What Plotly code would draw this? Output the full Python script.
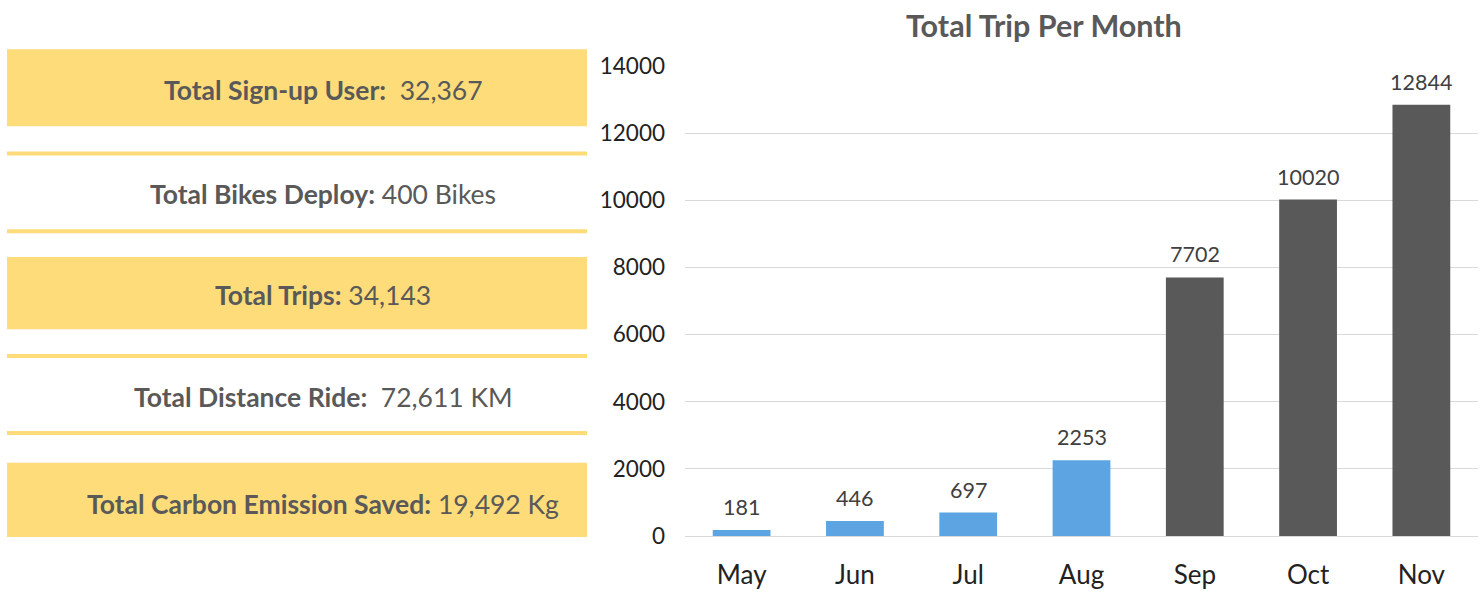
import plotly.graph_objects as go

# ---- data ----
months = ["May", "Jun", "Jul", "Aug", "Sep", "Oct", "Nov"]
trips = [181, 446, 697, 2253, 7702, 10020, 12844]
bar_colors = ["#5ca5e2", "#5ca5e2", "#5ca5e2", "#5ca5e2", "#595959", "#595959", "#595959"]
y_ticks = [0, 2000, 4000, 6000, 8000, 10000, 12000, 14000]

kpi_labels = ["Total Sign-up User:", "Total Bikes Deploy:", "Total Trips:",
              "Total Distance Ride:", "Total Carbon Emission Saved:"]
kpi_values = ["&nbsp;32,367", "400 Bikes", "34,143", "&nbsp;72,611 KM", "19,492 Kg"]
kpi_filled = [True, False, True, False, True]

# ---- layout geometry (screen pixels) ----
W, H = 1480, 592
PL, PR, PT, PB = 685, 1478, 66, 541  # plot area edges


def px(x):
    return (x - PL) / (PR - PL)


def py(y):
    return (PB - y) / (PB - PT)


fig = go.Figure()
fig.add_trace(go.Bar(
    x=months, y=trips,
    marker=dict(color=bar_colors, line=dict(width=0)),
    cliponaxis=False, width=0.51, hoverinfo="skip",
))

shapes = []
annotations = []
# value labels above bars
for m, v in zip(months, trips):
    annotations.append(dict(
        x=m, y=v, xref="x", yref="y", text=str(v), showarrow=False,
        xanchor="center", yanchor="middle", yshift=23,
        font=dict(family="Lato", size=21.5, color="#404040"),
    ))

rows = [(49, 127), (153, 233), (259, 332), (359, 437), (467, 542)]
text_y = [90, 195, 297, 401, 509]
line_y = [154.5, 233, 359, 437]
for i, (lab, val) in enumerate(zip(kpi_labels, kpi_values)):
    if kpi_filled[i]:
        t, b = rows[i]
        shapes.append(dict(type="rect", xref="paper", yref="paper",
                           x0=px(7), x1=px(587), y0=py(b), y1=py(t),
                           fillcolor="#fedc7a", line=dict(width=0), layer="below"))
    annotations.append(dict(
        xref="paper", yref="paper", x=px(323), y=py(text_y[i]),
        xanchor="center", yanchor="middle", showarrow=False,
        text=f"<b>{lab}</b> {val}",
        font=dict(family="Lato", size=26.5, color="#595959"),
    ))
for ly in line_y:
    shapes.append(dict(type="line", xref="paper", yref="paper",
                       x0=px(7), x1=px(587), y0=py(ly), y1=py(ly),
                       line=dict(color="#fedc7a", width=4), layer="below"))

# chart title
annotations.append(dict(
    xref="paper", yref="paper", x=px(1044), y=py(25),
    xanchor="center", yanchor="middle", showarrow=False,
    text="<b>Total Trip Per Month</b>",
    font=dict(family="Lato", size=30.5, color="#595959"),
))

fig.update_layout(
    width=W, height=H,
    margin=dict(l=PL, r=W - PR, t=PT, b=H - PB, pad=0),
    paper_bgcolor="white", plot_bgcolor="white",
    showlegend=False,
    shapes=shapes, annotations=annotations,
    xaxis=dict(showgrid=False, showline=False, ticks="",
               tickfont=dict(family="Lato", size=26, color="#222222"),
               ticklabelstandoff=21),
    yaxis=dict(range=[0, 14000], tickvals=y_ticks, tickformat="d", showgrid=True,
               gridcolor="#d9d9d9", gridwidth=1, zeroline=True,
               zerolinecolor="#d9d9d9", zerolinewidth=1,
               showline=False, ticks="",
               tickfont=dict(family="Lato", size=22.5, color="#222222"),
               ticklabelstandoff=19),
)

fig.write_html("out.html",
               config={"displayModeBar": False},
               post_script="document.body.style.margin='0';document.body.style.overflow='hidden';")
